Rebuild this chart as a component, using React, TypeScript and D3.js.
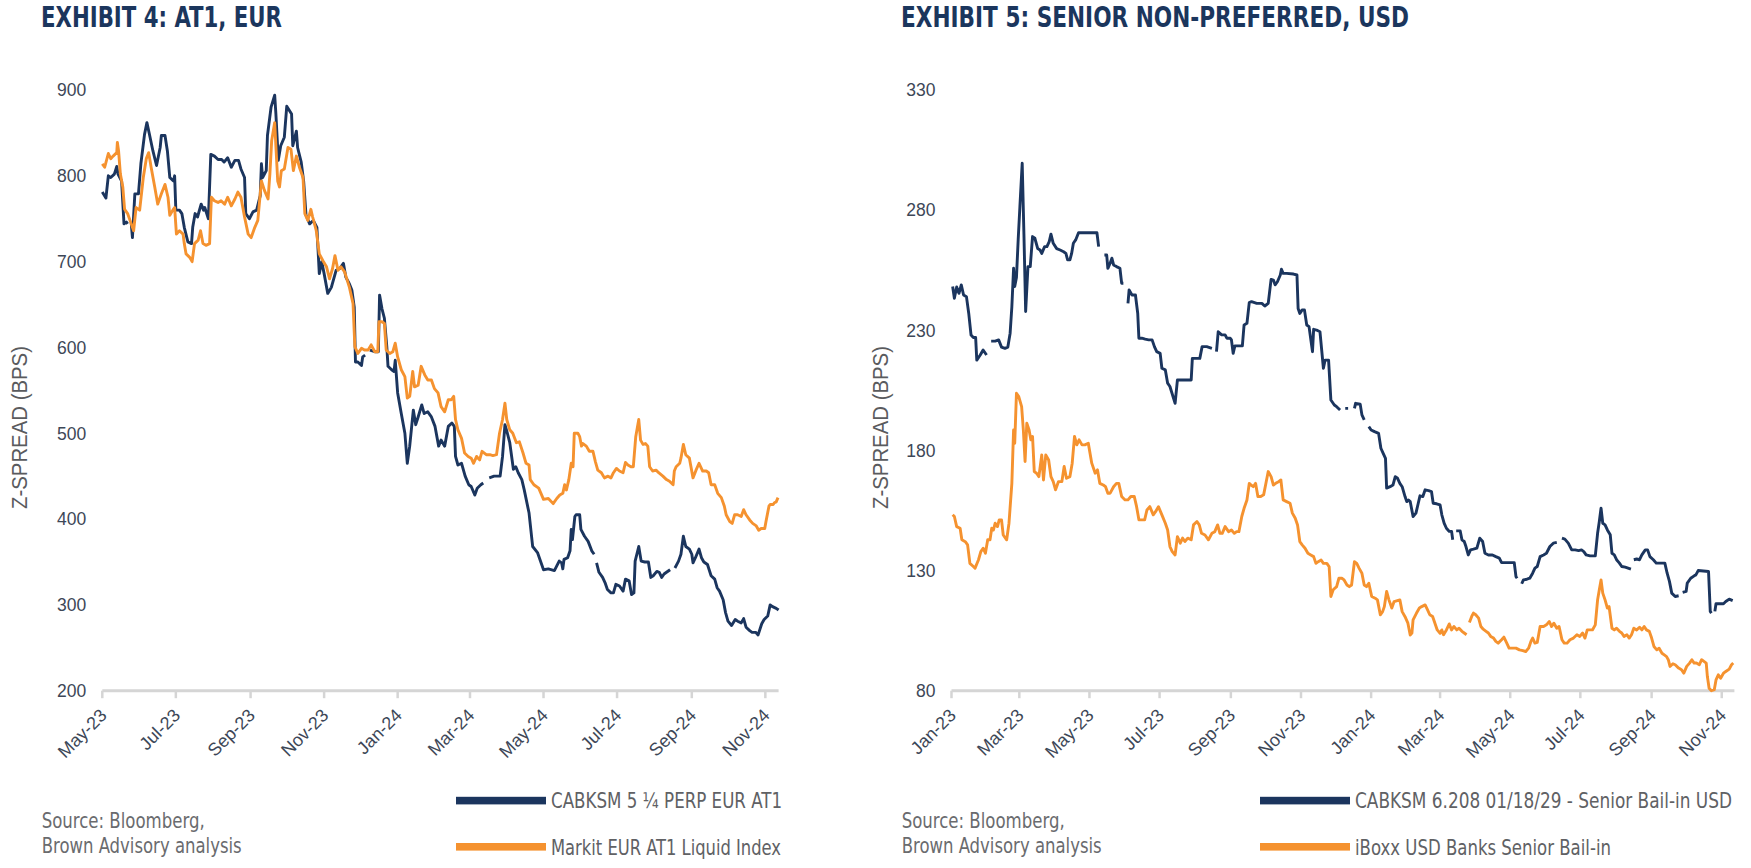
import React from "react";
import * as d3 from "d3";

// ---------- DATA ----------
// Exhibit 4 (AT1, EUR): x = days after 2023-05-01, y = Z-spread (bps); null = break in series
const at1Start = "2023-05-01";
const at1LastDay = 561;
const at1YTicks = [200, 300, 400, 500, 600, 700, 800, 900];
const at1Title = "EXHIBIT 4: AT1, EUR";
const at1Legend = ["CABKSM 5 ¼ PERP EUR AT1", "Markit EUR AT1 Liquid Index"];

const cabkAt1: [number, number | null][] = [
  [0,781],[3,774],[5,800],[7,798],[10,802],[12,811],[13,802],[16,794],[18,744],[20,746],[21,744],[23,null],[24,745],[25,728],[27,779],[30,779],[32,814],[35,848],[37,862],[39,849],[42,829],[45,812],[48,833],[49,847],[52,847],[54,829],[56,798],[59,794],[60,800],[61,760],[64,760],[66,756],[68,740],[71,723],[74,721],[75,740],[77,756],[79,752],[82,767],[84,760],[85,763],[88,750],[90,825],[93,823],[96,819],[99,819],[101,816],[104,821],[107,810],[110,818],[113,818],[115,808],[118,798],[119,756],[122,750],[125,758],[128,760],[131,777],[132,814],[133,798],[136,806],[137,847],[140,880],[143,894],[144,872],[146,818],[148,835],[151,845],[153,881],[157,872],[158,835],[161,852],[162,833],[165,816],[167,794],[169,754],[172,744],[175,748],[178,740],[180,686],[182,700],[184,686],[187,663],[190,670],[194,690],[197,692],[200,698],[202,682],[205,674],[207,667],[209,647],[210,583],[212,583],[215,579],[216,589],[218,591],[220,null],[222,597],[226,595],[229,595],[230,661],[232,645],[234,634],[236,601],[237,578],[240,574],[242,572],[243,585],[245,547],[248,523],[251,500],[253,465],[255,485],[258,527],[260,510],[262,519],[265,533],[267,523],[270,525],[273,519],[276,508],[279,485],[281,492],[284,485],[287,508],[290,512],[292,508],[293,473],[295,463],[298,465],[301,450],[304,440],[306,438],[309,428],[311,436],[314,440],[316,442],[318,null],[321,448],[325,450],[330,450],[332,473],[334,510],[336,500],[338,489],[341,458],[343,461],[345,454],[348,446],[350,434],[354,407],[357,368],[361,361],[366,341],[370,342],[375,340],[379,351],[381,349],[382,342],[383,353],[386,355],[388,363],[389,388],[390,376],[392,403],[393,405],[396,405],[397,388],[400,380],[403,374],[406,363],[408,359],[409,null],[410,349],[412,338],[415,332],[417,326],[419,318],[422,314],[424,314],[426,324],[429,322],[432,316],[434,330],[437,328],[439,312],[441,314],[442,351],[445,368],[447,351],[450,350],[453,350],[455,332],[457,334],[460,339],[462,338],[464,332],[466,336],[468,338],[471,341],[472,null],[475,343],[478,351],[480,359],[482,380],[484,368],[487,365],[489,359],[490,349],[492,355],[495,365],[497,355],[499,350],[502,347],[505,334],[508,330],[510,320],[512,316],[515,306],[517,291],[519,281],[522,276],[525,283],[527,281],[530,279],[532,284],[534,274],[537,270],[539,268],[542,268],[544,265],[547,278],[549,283],[552,287],[554,300],[556,298],[559,296],[561,294]
];

const markitAt1: [number, number | null][] = [
  [0,814],[2,810],[5,826],[7,820],[9,823],[12,827],[12.5,839],[13.5,829],[15,802],[17,787],[18.5,761],[21,756],[24,744],[26,736],[28,763],[31,760],[34,798],[36.5,820],[38.5,827],[40.5,810],[43.5,787],[46,767],[49,779],[52,790],[54.5,775],[56,754],[58.5,760],[60,763],[61.5,732],[64,736],[67,732],[68,721],[69.5,709],[72.5,705],[74.5,700],[76.5,721],[79.5,725],[81.5,736],[83.5,721],[86,719],[89,721],[90.5,775],[93,771],[96,769],[98.5,771],[101.5,767],[104,775],[107,765],[110,773],[112.5,781],[115,775],[118,752],[121,732],[123.5,728],[126.5,740],[129,748],[132,794],[134.5,783],[137.5,773],[139,802],[140.5,841],[143,862],[145.5,794],[147,787],[148.5,806],[151,808],[154,833],[156.5,831],[158.5,806],[161,823],[163.5,810],[166.5,798],[168,756],[170.5,748],[173,761],[174.5,752],[177.5,736],[180,709],[183,701],[186,694],[188.5,680],[191,692],[193,707],[195.5,690],[198,694],[201,688],[205,670],[208,651],[209.5,601],[212,593],[215,599],[217.5,597],[220.5,597],[223,603],[226,595],[228.5,595],[229.5,630],[232,630],[234,628],[235.5,597],[238.5,593],[241,595],[243,605],[245,589],[248,574],[251,566],[253,541],[255,543],[257.5,572],[259,554],[262,556],[264.5,578],[267.5,568],[270,562],[273,562],[275.5,552],[278.5,547],[281,531],[284,525],[287,539],[289.5,539],[291.5,543],[293,516],[295,504],[298,494],[300.5,477],[303.5,473],[306,471],[308,465],[310.5,473],[313,469],[315,479],[318.5,475],[321.5,475],[324,474],[327,475],[329.5,500],[332,516],[334,535],[335.5,516],[338,504],[340.5,500],[343.5,489],[346,490],[349,477],[351.5,465],[354,463],[355,446],[358,440],[362,436],[366,423],[370,424],[374,418],[377,424],[379.5,428],[382,430],[383.5,440],[385,434],[387,446],[389,465],[390.5,461],[391.5,500],[394.5,500],[396,496],[397.5,485],[398.5,488],[401.5,485],[404,479],[407,479],[409,467],[411,457],[414,454],[416.5,448],[419.5,450],[422,448],[424,454],[426.5,459],[429,456],[432,454],[434,466],[436,463],[438.5,461],[440.5,461],[442.5,496],[445,516],[446.5,492],[448.5,487],[450.5,488],[452.5,485],[454,461],[456.5,456],[459.5,457],[461.5,454],[465,450],[468,446],[470.5,444],[473.5,440],[474.5,456],[476,461],[479,465],[480,471],[482,487],[484,475],[487,471],[490,448],[492.5,457],[495,465],[498,456],[501,456],[503,454],[505,440],[508,440],[510.5,430],[513.5,425],[516,415],[517.5,405],[520.5,397],[522.5,395],[524.5,405],[527,405],[530,403],[532,411],[534,405],[537,399],[539.5,395],[542.5,392],[544.5,387],[546.5,389],[549.5,389],[550.5,397],[553,415],[554,417],[556.5,417],[557.5,419],[559,420],[560.5,425]
];

// Exhibit 5 (Senior non-preferred, USD): x = days after 2023-01-01
const snpStart = "2023-01-01";
const snpLastDay = 681;
const snpYTicks = [80, 130, 180, 230, 280, 330];
const snpTitle = "EXHIBIT 5: SENIOR NON-PREFERRED, USD";
const snpLegend = ["CABKSM 6.208 01/18/29 - Senior Bail-in USD", "iBoxx USD Banks Senior Bail-in"];

const cabkSnp: [number, number | null][] = [
  [1,248.2],[2.5,243.3],[4.5,248],[6.5,245.4],[8.5,248.9],[10.5,244.7],[13,244],[15,237],[17,228],[19,227],[21,227],[22,217.6],[25,219.7],[27.5,221.8],[30.5,219.7],[32.5,null],[34.5,225.5],[38,225.5],[41,226],[43.5,223],[46.5,222.5],[49,223],[51,228.8],[52.5,239.8],[54,255.8],[55,248.2],[56.5,252],[58,267.6],[59.5,281.5],[61.5,299.5],[63,270],[64.5,237.8],[66.5,256.5],[68.5,256.5],[70.5,269],[72.5,268.3],[75,264],[77,263.4],[78.5,262],[81,264.8],[83,264.8],[85,266.9],[86.5,270],[88.5,266.2],[91.5,264],[94.5,263.4],[97.5,262.7],[99.5,262],[101,259.3],[103,259.3],[104.5,262],[106,266.2],[108,267.6],[110.5,270.6],[116,270.6],[122,270.6],[126.5,270.6],[128,264.8],[130,null],[133,261.3],[135,261.3],[136,255.8],[138,257.9],[139.5,260],[141,257.2],[143.5,256.5],[146.5,255.8],[148,249.6],[149.5,249.6],[151.5,null],[153.5,241.2],[154.5,246.8],[157,244.7],[160,244.7],[162,237],[163,226.7],[165.5,226.7],[168.5,226.3],[171.5,226],[174.5,226],[176.5,223.2],[178.5,221.1],[181.5,220.4],[183,214.2],[186,213.5],[188,208],[190,206.6],[194.5,199.6],[196.5,209.3],[200,209.3],[204.5,209.3],[208.5,209.3],[209.5,218.3],[213,218.3],[216,218.3],[218,223.2],[222,223.2],[226.5,222.5],[228.5,null],[230.5,221.1],[232,229.4],[235,228.1],[238,228.1],[239.5,226.7],[242.5,226.7],[243.5,226],[245,220.4],[246.5,223.5],[249.5,223.5],[253,223.5],[254.5,232.2],[257,232.9],[259,241.5],[261,241.9],[265.5,241.2],[270,241.2],[272.5,240.1],[275.5,241.2],[278,251.2],[280,250.9],[281.5,248.9],[283.5,250.2],[286,253],[287,255.4],[288.5,253.7],[291.5,253.7],[297.5,253.4],[300.5,253],[301.5,239.1],[303,237],[305,238.5],[307,238.5],[309,232.2],[311,231.5],[314,221.1],[315,230.4],[317.5,230.1],[320.5,229.4],[323.5,214.2],[325,217.6],[328,217.6],[330,201],[333,198.9],[335,198.2],[338,196.8],[340,null],[342.5,197.5],[345,197.5],[347.5,null],[350.5,197.5],[351.5,199.6],[355.5,199.2],[357,194.8],[359,192.7],[361,null],[363,189.9],[365,188.5],[368,187.8],[371.5,187.1],[373.5,180.9],[375.5,178.8],[377.5,176.7],[378.5,164.3],[381.5,164.9],[384,165.6],[386,169.1],[388,168.4],[390,166.3],[392,164.9],[394.5,160.8],[396,158.7],[397.5,159.4],[399,158.7],[401.5,152.5],[404,153.9],[406,158],[407.5,161.1],[410,160.8],[412,163.6],[415,163.3],[417.5,162.9],[419,158],[422,157.8],[425,157.3],[426.5,153.2],[428.5,149.7],[430.5,147.6],[433,146.3],[435,146.3],[436,142.8],[437.5,null],[439,146.5],[442.5,146.5],[444,142.8],[446,142.1],[447.5,140],[449.5,136.5],[451.5,138.6],[454,138.9],[457,139.3],[459.5,143.5],[462,142.1],[464,137.2],[467,136.5],[470.5,136.5],[473.5,135.8],[476.5,135.2],[478.5,133.3],[486,133.3],[489.5,133.3],[491,127.5],[492,126.8],[494,null],[496,124.5],[497.5,126.1],[500.5,126.4],[503,126.8],[505.5,128.9],[507.5,131],[509.5,131.7],[512,135.8],[515,136.5],[517.5,137.2],[520.5,140],[523.5,141.4],[526.5,141.7],[528.5,null],[531,143.5],[533.5,143.1],[536.5,141.4],[539.5,138.6],[542.5,138.6],[545.5,138.3],[548,138.6],[550,137.9],[552,136.5],[555.5,136.1],[560,136.1],[562,145.5],[563.5,150.4],[565,156],[566.5,149.7],[568.5,149],[570.5,146.9],[573,144.9],[574.5,137.2],[576.5,136.5],[578.5,134.5],[581,133.1],[583,131.7],[586,131.4],[591,130.6],[592.5,null],[593.5,134.5],[596,134.8],[598.5,134.5],[600.5,136.5],[603.5,138.6],[605.5,138.6],[607.5,135.8],[610.5,134.5],[613,133.1],[620.5,133.1],[622.5,128.9],[624.5,125.5],[626.5,120.6],[629.5,119.2],[632.5,119.5],[634,null],[636,120.9],[639,121.3],[640,124.8],[643,126.8],[646,127.8],[647.5,128.2],[649.5,130],[658.5,129.6],[660,113],[661,112.3],[662.5,null],[664,113],[665,116.2],[671.5,116.2],[673.5,117.1],[676.5,118.1],[679.5,117.5]
];

const iboxxSnp: [number, number | null][] = [
  [1,153.2],[2.5,152.5],[4.5,148.3],[7.5,147.6],[9,142.8],[12,142],[14,140.7],[16,133],[19,131.7],[20.5,131],[23.5,134.5],[25.5,137.9],[27.5,139.3],[29.5,137.2],[31.5,142.8],[33.5,142.8],[35,147.6],[36.5,146.9],[38,149.7],[40,148.3],[41.5,151.1],[43.5,151.1],[45,144.8],[48,142.8],[50,149.7],[52.5,166.3],[54,188.5],[55,183],[56.5,203.8],[58.5,202.4],[61,198.2],[62.5,188.5],[64,175.4],[65.5,191.3],[67.5,188.5],[69,184.4],[70.5,185.8],[72,171.2],[74,170.5],[76,169.1],[78.5,178.1],[80,167.7],[82,178.1],[84.5,176],[86.5,169.1],[88.5,167],[90.5,163.6],[93,167],[96,167],[98,173.3],[100,168.4],[103,169.1],[105,174.7],[107,185.8],[109,182.3],[111,184.4],[113.5,182.3],[116,182.3],[119,183],[122,174.7],[125,170.5],[127,171.9],[129,166.3],[132,165.6],[134,164.9],[136,162.2],[138,162.2],[141,164.9],[143.5,166.3],[145.5,166.3],[148,160.8],[151,159.4],[153.5,159.4],[156,160.8],[159,160.8],[161,156.6],[163,151.1],[168,151.1],[170,155.2],[172.5,156.6],[175.5,153.2],[177.5,154.5],[180,156.6],[183,153.2],[186,149.7],[188,146.9],[190,140],[192,137.9],[194.5,136.5],[196.5,144.1],[199,141.4],[201,143.5],[203,142.1],[205.5,143.5],[208.5,142.8],[210.5,149],[213.5,150.4],[215.5,149],[217.5,145.5],[220.5,144.8],[223.5,142.8],[226.5,145.5],[229,146.2],[231.5,149],[233.5,145.5],[235.5,145.5],[238,148.3],[241,146.2],[243.5,146.9],[246,145.5],[248,146.2],[250,146.2],[252.5,152.5],[254.5,155.9],[257,159.4],[259,166.3],[260.5,165.6],[262.5,164.9],[264.5,166.3],[266.5,160.8],[269,160.8],[271.5,161.5],[273.5,166.3],[275.5,171.2],[278,169.1],[280,165.6],[282,166.3],[284.5,167],[286.5,167.7],[288.5,159.4],[291.5,158.7],[294.5,158],[296.5,153.9],[299,151.8],[301,149],[303,142],[305,140.7],[307.5,139.3],[310,137.2],[312.5,136.5],[315,135.8],[317,133],[319,133.7],[321.5,134.4],[323.5,133],[326.5,133],[328.5,131.6],[330,119.2],[332,122],[335,123.3],[337,126.8],[339.5,126.8],[341.5,126.1],[344,124],[346,123.3],[348,124],[350.5,133.7],[352.5,133],[354.5,131],[357,128.9],[359,124],[361,123.3],[363,124.7],[365.5,119.2],[368.5,118.5],[370.5,117.8],[373,111.6],[375,112.9],[376.5,115],[378.5,121.3],[380.5,117.8],[383,114.4],[385,117.1],[390,117.8],[392,112.9],[394.5,110.8],[397,108.1],[399,103.2],[400.5,104],[401.5,109.5],[404.5,112.3],[407,114.4],[409,115],[412,115.7],[414,113.7],[416,111.6],[418.5,110.9],[420.5,108.1],[422.5,105.3],[425,103.9],[426.5,105.3],[428,103.3],[430.5,105.3],[433,107.8],[435,105.3],[437,106.7],[439.5,105.3],[441.5,106],[444,104.7],[446,104],[448,103.3],[449.5,null],[450.5,108.4],[452.5,110.9],[454,112.3],[456,111.6],[458.5,110.2],[460.5,106.7],[462.5,105.6],[465,104.7],[467,104],[469,102.6],[471.5,101.9],[473.5,100.5],[475.5,99.8],[478.5,101.2],[480.5,102.3],[483,99.8],[485,97.7],[491,97.7],[494,97],[497,96.7],[499.5,96.3],[502,97.7],[504,100.5],[505.5,101.9],[507.5,99.8],[509.5,100.1],[512,106.7],[515,106.7],[517.5,107.4],[520,108.8],[522,106.7],[524,108.1],[526.5,106],[528.5,106.7],[531,101.2],[533,99.8],[535.5,99.8],[538,101.2],[541,101.9],[544,103.3],[546.5,102.6],[549,104],[551,101.9],[553,105.3],[557.5,105.3],[560,107.4],[562,117.8],[563.5,122],[565,126.1],[566.5,120.6],[568.5,117.8],[570.5,114.4],[572,115],[574.5,106],[576.5,105.3],[578.5,106],[581,104.7],[583,104],[585,102.6],[587.5,103.3],[589.5,101.9],[591.5,103.3],[593.5,106],[596,105.3],[598.5,106.4],[600.5,105.3],[602.5,106.7],[604.5,105.3],[607,104.7],[609,101.9],[611,98.4],[613.5,97],[615.5,97.7],[618,95.6],[620,94.9],[622,94.2],[623.5,92.9],[625,90.1],[627.5,91.2],[629.5,90.8],[632.5,89.4],[635,88.7],[637,87.3],[639.5,90.1],[642,91.5],[644,92.9],[646,91.5],[648,91.5],[650.5,90.8],[652.5,92.9],[654.5,92.2],[656.5,91.5],[657.5,85.9],[659,81],[661,80],[663.5,80.4],[665,84.5],[667,86.6],[669,85.2],[671.5,87.3],[673.5,88],[676.5,89],[678.5,90.8],[680,91.5]
];

const sourceLines = ["Source: Bloomberg,", "Brown Advisory analysis"];
const yAxisTitle = "Z-SPREAD (BPS)";

// ---------- STYLE ----------
const NAVY = "#1b355e";
const ORANGE = "#f5922f";
const TITLE_COLOR = "#1b365d";
const TICK_COLOR = "#3d4757";
const GRAY_TEXT = "#6a6b6e";
const AXIS_GRAY = "#d5d5d5";
const SANS = "'Liberation Sans', Arial, Helvetica, sans-serif";
const NARROW = "'Liberation Sans Narrow', 'Arial Narrow', 'DejaVu Sans Condensed', sans-serif";

type Pt = [number, number | null];

interface PanelProps {
  left: number;
  plotX0: number;
  plotX1: number;
  yTitleX: number;
  legendX: number;
  title: string;
  titleWidth: number;
  start: string;
  lastDay: number;
  yTicks: number[];
  series: Pt[][];
  colors: string[];
  legend: string[];
  legendWidths: number[];
}

const parseDay = d3.timeParse("%Y-%m-%d");
const fmtMonth = d3.timeFormat("%b-%y");
const sourceWidths = [163, 200];

function Panel(p: PanelProps) {
  const start = parseDay(p.start) as Date;
  const toDate = (d: number) => new Date(start.getTime() + d * 86400000);
  const x = d3.scaleTime().domain([start, toDate(p.lastDay)]).range([p.plotX0, p.plotX1]);
  const y = d3
    .scaleLinear()
    .domain([p.yTicks[0], p.yTicks[p.yTicks.length - 1]])
    .range([690.7, 90]);
  const xTicks = x.ticks(d3.timeMonth.every(2) as d3.TimeInterval);
  const line = d3
    .line<Pt>()
    .defined((d) => d[1] !== null)
    .x((d) => x(toDate(d[0])))
    .y((d) => y(d[1] as number));
  const axisY = y(p.yTicks[0]);

  return (
    <g>
      <text
        x={p.left}
        y={27.3}
        fontFamily={NARROW}
        fontWeight={700}
        fontSize={28}
        fill={TITLE_COLOR}
        textLength={p.titleWidth}
        lengthAdjust="spacingAndGlyphs"
      >
        {p.title}
      </text>

      {/* y axis title */}
      <text
        transform={`translate(${p.yTitleX},427.5) rotate(-90)`}
        textAnchor="middle"
        fontFamily={SANS}
        fontSize={22}
        fill="#5a5b5e"
        textLength={163}
        lengthAdjust="spacingAndGlyphs"
      >
        {yAxisTitle}
      </text>

      {/* y tick labels */}
      {p.yTicks.map((t) => (
        <text
          key={t}
          x={p.plotX0 - 16}
          y={y(t)}
          dy="0.36em"
          textAnchor="end"
          fontFamily={SANS}
          fontSize={17.5}
          fill={TICK_COLOR}
        >
          {t}
        </text>
      ))}

      {/* x axis */}
      <line x1={p.plotX0} x2={p.plotX1} y1={axisY} y2={axisY} stroke={AXIS_GRAY} strokeWidth={3} />
      {xTicks.map((t) => (
        <g key={+t}>
          <line x1={x(t)} x2={x(t)} y1={axisY} y2={axisY + 7.5} stroke={AXIS_GRAY} strokeWidth={2.5} />
          <text
            transform={`translate(${x(t) + 5.5},${716.5}) rotate(-45)`}
            textAnchor="end"
            fontFamily={SANS}
            fontSize={18}
            fill={TICK_COLOR}
          >
            {fmtMonth(t)}
          </text>
        </g>
      ))}

      {/* series */}
      {p.series.map((s, i) => (
        <path
          key={i}
          d={line(s) || ""}
          fill="none"
          stroke={p.colors[i]}
          strokeWidth={2.9}
          strokeLinejoin="round"
          strokeLinecap="butt"
        />
      ))}

      {/* source */}
      {sourceLines.map((s, i) => (
        <text
          key={s}
          x={p.left + 0.7}
          y={828.3 + i * 25}
          fontFamily={NARROW}
          fontSize={21.5}
          fill={GRAY_TEXT}
          textLength={sourceWidths[i]}
          lengthAdjust="spacingAndGlyphs"
        >
          {s}
        </text>
      ))}

      {/* legend */}
      {p.legend.map((s, i) => (
        <g key={s}>
          <rect x={p.legendX} y={796.8 + i * 46.2} width={90} height={7.6} fill={p.colors[i]} />
          <text
            x={p.legendX + 95}
            y={808.4 + i * 46.6}
            fontFamily={NARROW}
            fontSize={21}
            fill="#606164"
            textLength={p.legendWidths[i]}
            lengthAdjust="spacingAndGlyphs"
          >
            {s}
          </text>
        </g>
      ))}
    </g>
  );
}

export default function App() {
  return (
    <svg
      width={1751}
      height={868}
      style={{ position: "absolute", left: 0, top: 0, background: "#ffffff" }}
    >
      <Panel
        left={41}
        plotX0={102.3}
        plotX1={778.6}
        yTitleX={27}
        legendX={456}
        title={at1Title}
        titleWidth={241}
        start={at1Start}
        lastDay={at1LastDay}
        yTicks={at1YTicks}
        series={[cabkAt1, markitAt1]}
        colors={[NAVY, ORANGE]}
        legend={at1Legend}
        legendWidths={[231, 230]}
      />
      <Panel
        left={901}
        plotX0={951.5}
        plotX1={1734.4}
        yTitleX={888}
        legendX={1260}
        title={snpTitle}
        titleWidth={508}
        start={snpStart}
        lastDay={snpLastDay}
        yTicks={snpYTicks}
        series={[cabkSnp, iboxxSnp]}
        colors={[NAVY, ORANGE]}
        legend={snpLegend}
        legendWidths={[377, 256]}
      />
    </svg>
  );
}
